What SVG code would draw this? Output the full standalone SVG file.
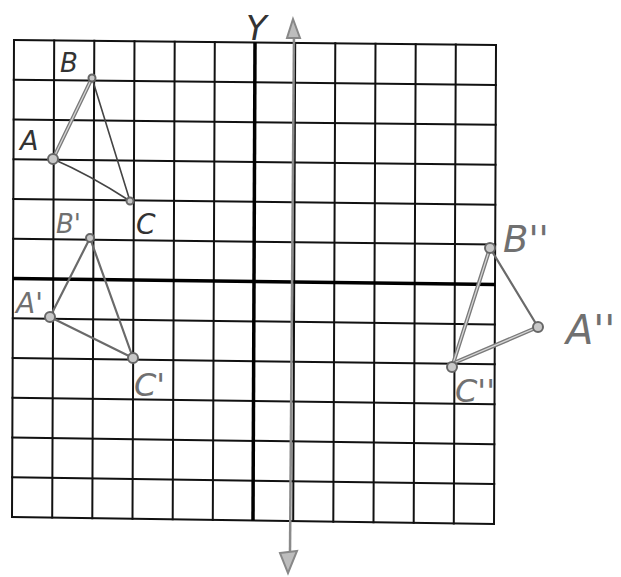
<svg xmlns="http://www.w3.org/2000/svg" width="621" height="577" viewBox="0 0 621 577">
<style>
.g{stroke:#111;stroke-width:2;stroke-linecap:square;fill:none}
.ax{stroke:#000;stroke-width:3.5;fill:none}
.yl{stroke:#8a8a8a;stroke-width:2.5;fill:none}
.dbl{stroke:#7a7a7a;stroke-width:4;fill:none;stroke-linecap:round}
.dblc{stroke:#d6d6d6;stroke-width:1.3;fill:none;stroke-linecap:round}
.thin{stroke:#444;stroke-width:1.6;fill:none;stroke-linecap:round}
.mid{stroke:#6a6a6a;stroke-width:2.2;fill:none;stroke-linecap:round}
.pt{fill:#c8c8c8;stroke:#666;stroke-width:2}
.lb{font-family:"DejaVu Sans","Liberation Sans",sans-serif;font-weight:200;font-style:italic;fill:#333}
.lg{font-family:"DejaVu Sans","Liberation Sans",sans-serif;font-weight:200;font-style:italic;fill:#707070}
</style>
<rect width="621" height="577" fill="#fff"/>
<g id="grid">
<path class="g" d="M14,40L496,45M13.8,79.8L495.8,84.9M13.7,119.5L495.7,124.8M13.5,159.3L495.5,164.8M13.3,199L495.3,204.7M13.2,238.8L495.2,244.6M12.8,318.3L494.8,324.4M12.7,358L494.7,364.3M12.5,397.8L494.5,404.3M12.3,437.5L494.3,444.2M12.2,477.3L494.2,484.1M12,517L494,524"/>
<path class="g" d="M14,40L12,517M54.2,40.4L52.2,517.6M94.3,40.8L92.3,518.2M134.5,41.3L132.5,518.8M174.7,41.7L172.7,519.3M214.8,42.1L212.8,519.9M295.2,42.9L293.2,521.1M335.3,43.3L333.3,521.7M375.5,43.8L373.5,522.3M415.7,44.2L413.7,522.8M455.8,44.6L453.8,523.4M496,45L494,524"/>
<path class="ax" d="M13,278.5L495,284.5"/>
<path class="ax" d="M255,42.5L253,520.5"/>
</g>
<g id="y-axis-arrow">
<path class="yl" d="M294,34L290,552"/>
<polygon points="293,19 287,38 300,38" fill="#bdbdbd" stroke="#888" stroke-width="2"/>
<polygon points="280,553 297,551 288,573" fill="#bdbdbd" stroke="#888" stroke-width="2"/>
<text class="lb" x="246" y="40" font-size="34">Y</text>
</g>
<g id="connectors">
<path class="dbl" d="M53,159L92,78"/><path class="dblc" d="M53,159L92,78"/>
<path class="thin" d="M92,78L130,201"/>
<path class="thin" d="M53,159Q90,175 130,201"/>
<path class="mid" d="M50,317L90,238"/>
<path class="mid" d="M90,238L133,358"/>
<path class="mid" d="M50,317L133,358"/>
<path class="dbl" d="M490,248L452,367"/><path class="dblc" d="M490,248L452,367"/>
<path class="mid" d="M490,248L538,327"/>
<path class="dbl" d="M538,327L456,362"/><path class="dblc" d="M538,327L456,362"/>
</g>
<g id="A"><circle class="pt" cx="53" cy="159" r="5"/><text class="lb" x="20" y="150" font-size="27">A</text></g>
<g id="B"><circle class="pt" cx="92" cy="78" r="3.5"/><text class="lb" x="60" y="72" font-size="26">B</text></g>
<g id="C"><circle class="pt" cx="130" cy="201" r="3.5"/><text class="lb" x="136" y="234" font-size="28">C</text></g>
<g id="A1"><circle class="pt" cx="50" cy="317" r="5"/><text class="lg" x="16" y="313" font-size="28">A'</text></g>
<g id="B1"><circle class="pt" cx="90" cy="238" r="4"/><text class="lg" x="56" y="233" font-size="26">B'</text></g>
<g id="C1"><circle class="pt" cx="133" cy="358" r="5"/><text class="lg" x="134" y="396" font-size="32">C'</text></g>
<g id="B2"><circle class="pt" cx="490" cy="248" r="5"/><text class="lg" x="503" y="252" font-size="37">B''</text></g>
<g id="A2"><circle class="pt" cx="538" cy="327" r="5"/><text class="lg" x="566" y="344" font-size="40">A''</text></g>
<g id="C2"><circle class="pt" cx="452" cy="367" r="5"/><text class="lg" x="455" y="402" font-size="32">C''</text></g>
</svg>
